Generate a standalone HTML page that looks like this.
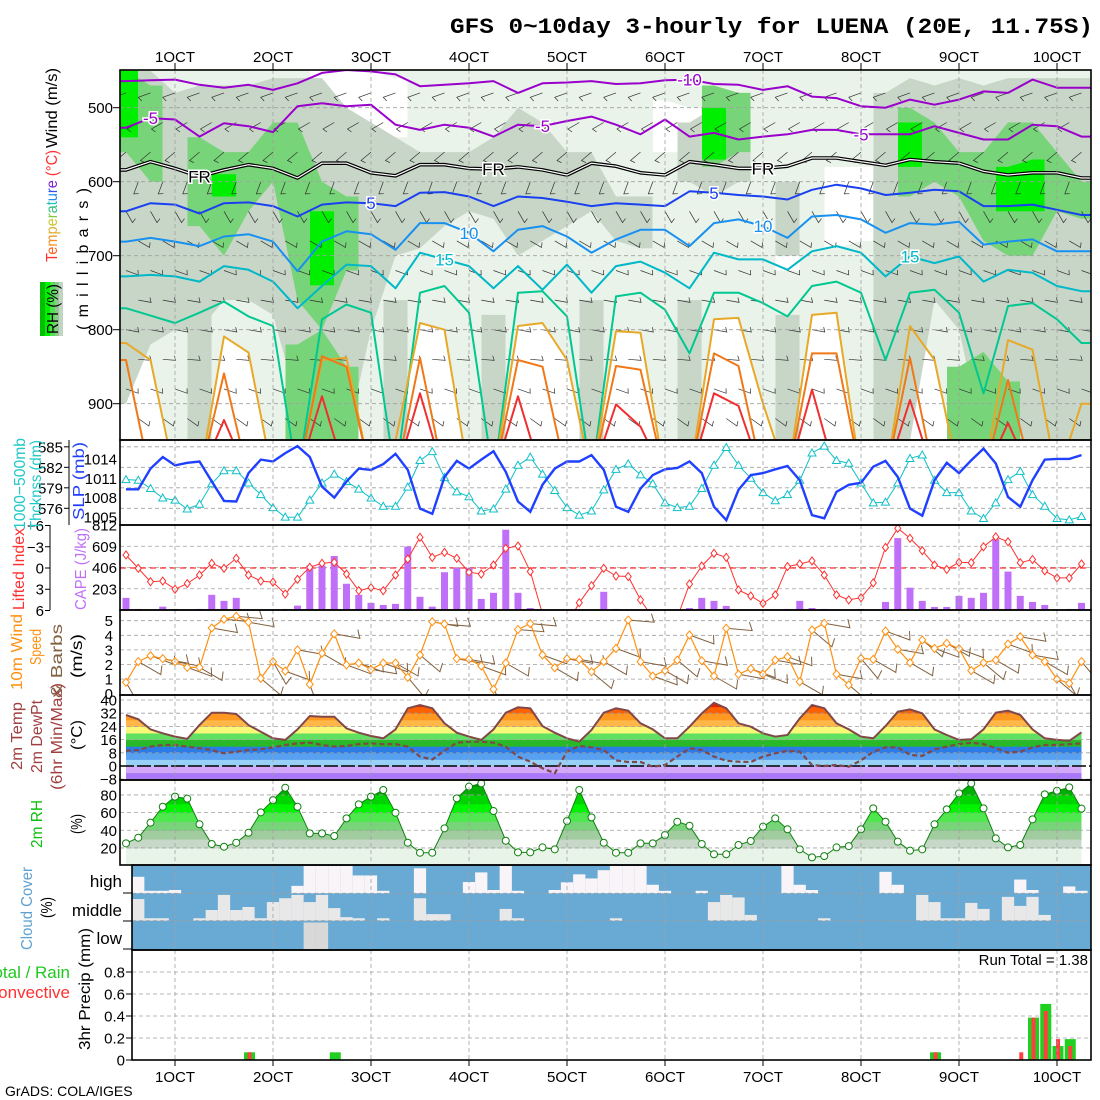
<!DOCTYPE html>
<html><head><meta charset="utf-8"><title>GFS meteogram LUENA</title>
<style>
html,body{margin:0;padding:0;background:#fff;}
svg{display:block;font-family:"Liberation Sans",sans-serif;}
</style></head>
<body>
<svg id="chart" width="1100" height="1100" viewBox="0 0 1100 1100" xmlns="http://www.w3.org/2000/svg">
<defs>
<clipPath id="cTop"><rect x="120" y="70" width="971" height="370"/></clipPath>
<clipPath id="cSlp"><rect x="120" y="440" width="971" height="85"/></clipPath>
<clipPath id="cCape"><rect x="120" y="525" width="971" height="85"/></clipPath>
<clipPath id="cWind"><rect x="120" y="610" width="971" height="85"/></clipPath>
<clipPath id="cTemp"><rect x="120" y="695" width="971" height="85"/></clipPath>
<clipPath id="cRh"><rect x="120" y="780" width="971" height="85"/></clipPath>
<clipPath id="cCloud"><rect x="132" y="865" width="959" height="85"/></clipPath>
<clipPath id="cPrecip"><rect x="132" y="950" width="959" height="110"/></clipPath>
</defs>
<rect x="0" y="0" width="1100" height="1100" fill="#ffffff"/>
<text x="450" y="33" font-family="Liberation Mono, monospace" font-size="22" font-weight="bold" textLength="643" lengthAdjust="spacingAndGlyphs" fill="#000">GFS 0~10day 3-hourly for LUENA (20E, 11.75S)</text>

<g id="gTop"></g>
<g id="gSlp"></g>
<g id="gCape"></g>
<g id="gWind"></g>
<g id="gTemp"></g>
<g id="gRh"></g>
<g id="gCloud"></g>
<g id="gPrecip"></g>
<g id="gAxes"></g>

<g font-size="16">
<text transform="translate(57,148) rotate(-90)" textLength="80" lengthAdjust="spacingAndGlyphs" fill="#000">Wind (m/s)</text>
<text transform="translate(57,262) rotate(-90)" textLength="112" lengthAdjust="spacingAndGlyphs"><tspan fill="#ff3030">T</tspan><tspan fill="#ff6020">e</tspan><tspan fill="#f09020">m</tspan><tspan fill="#e0b030">p</tspan><tspan fill="#c8c830">e</tspan><tspan fill="#80c840">r</tspan><tspan fill="#30c080">a</tspan><tspan fill="#20c0c0">t</tspan><tspan fill="#2090f0">u</tspan><tspan fill="#3050f0">r</tspan><tspan fill="#8020d0">e</tspan><tspan fill="#ff3030"> (°C)</tspan></text>
<rect x="40" y="282" width="5" height="54" fill="#00c000"/>
<rect x="45" y="282" width="5" height="54" fill="#00f000"/>
<rect x="50" y="282" width="5" height="54" fill="#50e050"/>
<rect x="55" y="282" width="4" height="54" fill="#90c890"/>
<rect x="59" y="282" width="4" height="54" fill="#c4d4c4"/>
<text transform="translate(58,334) rotate(-90)" textLength="50" lengthAdjust="spacingAndGlyphs" fill="#000">RH (%)</text>
<text transform="translate(88,330) rotate(-90)" textLength="142" lengthAdjust="spacing" fill="#000">(millibars)</text>
</g>
<g font-size="16">
<text transform="translate(25,530) rotate(-90)" textLength="92" lengthAdjust="spacingAndGlyphs" fill="#20c8c8">1000−500mb</text>
<text transform="translate(41,530) rotate(-90)" textLength="90" lengthAdjust="spacingAndGlyphs" fill="#20c8c8">Thcknss (dm)</text>
<text transform="translate(84,520) rotate(-90)" textLength="78" lengthAdjust="spacingAndGlyphs" fill="#2040ff">SLP (mb)</text>
<text transform="translate(24,610) rotate(-90)" textLength="82" lengthAdjust="spacingAndGlyphs" fill="#ff3030">Lifted Index</text>
<text transform="translate(86,610) rotate(-90)" textLength="82" lengthAdjust="spacingAndGlyphs" fill="#c070f8">CAPE (J/kg)</text>
<text transform="translate(22,690) rotate(-90)" textLength="76" lengthAdjust="spacingAndGlyphs" fill="#ff9010">10m Wind</text>
<text transform="translate(41,665) rotate(-90)" textLength="36" lengthAdjust="spacingAndGlyphs" fill="#ff9010">Speed</text>
<text transform="translate(62,698) rotate(-90)" textLength="74" lengthAdjust="spacingAndGlyphs" fill="#806040">&amp; Barbs</text>
<text transform="translate(82,678) rotate(-90)" textLength="44" lengthAdjust="spacingAndGlyphs" fill="#000">(m/s)</text>
<text transform="translate(22,770) rotate(-90)" textLength="68" lengthAdjust="spacingAndGlyphs" fill="#a04040">2m Temp</text>
<text transform="translate(42,773) rotate(-90)" textLength="73" lengthAdjust="spacingAndGlyphs" fill="#a04040">2m DewPt</text>
<text transform="translate(62,790) rotate(-90)" textLength="107" lengthAdjust="spacingAndGlyphs" fill="#a04040">(6hr Min/Max)</text>
<text transform="translate(82,750) rotate(-90)" textLength="30" lengthAdjust="spacingAndGlyphs" fill="#000">(°C)</text>
<text transform="translate(42,848) rotate(-90)" textLength="48" lengthAdjust="spacingAndGlyphs" fill="#10c010">2m RH</text>
<text transform="translate(82,834) rotate(-90)" textLength="20" lengthAdjust="spacingAndGlyphs" fill="#000">(%)</text>
<text transform="translate(32,950) rotate(-90)" textLength="83" lengthAdjust="spacingAndGlyphs" fill="#5fa0d0">Cloud Cover</text>
<text transform="translate(52,918) rotate(-90)" textLength="21" lengthAdjust="spacingAndGlyphs" fill="#000">(%)</text>
<text x="122" y="887" text-anchor="end" font-size="17" fill="#000">high</text>
<text x="122" y="916" text-anchor="end" font-size="17" fill="#000">middle</text>
<text x="122" y="944" text-anchor="end" font-size="17" fill="#000">low</text>
<text x="70" y="978" text-anchor="end" font-size="17" fill="#20c820">Total / Rain</text>
<text x="70" y="998" text-anchor="end" font-size="17" fill="#ff3030">Convective</text>
<text transform="translate(90,1050) rotate(-90)" textLength="122" lengthAdjust="spacingAndGlyphs" fill="#000">3hr Precip (mm)</text>
<text x="1088" y="965" text-anchor="end" font-size="15" fill="#000">Run Total = 1.38</text>
<text x="5" y="1096" font-size="14" fill="#000">GrADS: COLA/IGES</text>
</g>

<script>
const dayLabels = ["1OCT","2OCT","3OCT","4OCT","5OCT","6OCT","7OCT","8OCT","9OCT","10OCT"];
const slp = [1009.3,1009.3,1012.5,1014.3,1013.0,1013.4,1013.6,1010.5,1007.5,1007.4,
1011.8,1013.9,1013.6,1014.9,1016.0,1014.3,1009.7,1008.0,1010.5,1012.5,
1012.3,1013.2,1014.8,1012.3,1006.3,1005.5,1011.2,1013.7,1012.5,1013.9,
1015.2,1012.0,1007.4,1005.8,1010.0,1012.5,1013.6,1013.6,1014.6,1012.3,
1006.6,1005.8,1009.4,1011.5,1012.4,1012.6,1013.6,1011.8,1006.6,1004.5,
1009.2,1011.5,1011.8,1012.4,1012.9,1010.7,1005.3,1004.8,1008.9,1010.0,
1010.3,1012.8,1013.7,1011.2,1006.3,1005.2,1010.7,1013.4,1011.8,1013.8,
1015.6,1013.3,1008.1,1006.6,1010.7,1013.9,1014.0,1014.0,1014.6];
const thickness = [580.2,580.1,578.9,577.5,577.2,575.9,576.6,579.6,581.5,581.5,
579.7,578.0,576.1,574.7,574.7,577.2,579.7,581.0,579.9,578.8,
577.5,576.3,576.3,579.1,583.0,584.3,580.5,578.4,577.7,575.6,
575.9,578.8,582.3,583.5,581.0,578.6,576.1,575.0,575.6,578.7,
581.7,582.5,580.9,579.6,576.8,576.1,576.3,578.9,582.3,584.9,
582.3,580.4,578.3,577.1,578.0,580.1,584.1,585.1,583.0,582.6,
579.7,576.8,576.9,579.7,583.3,583.8,580.1,578.3,578.3,575.6,
574.5,576.8,580.2,581.4,578.0,576.3,574.5,574.3,574.8];
const liftedIndex = [-1.84,0.05,1.93,1.84,3.0,2.2,1.0,-0.66,0.05,-1.37,
1.0,1.84,2.0,3.67,1.6,-0.1,-0.66,-0.8,0.85,3.2,
2.78,3.2,1.0,-1.27,-4.33,-1.5,-2.2,-1.37,0.6,0.85,
-0.42,-2.78,-3.1,0.5,6.5,8,8,4.9,2.5,0.05,
1.13,1.2,4.5,7,8,7,2.26,-0.28,-2.07,-1.5,
3.1,3.95,5.0,3.8,-0.2,-0.57,-1.0,1.0,3.8,4.5,
4.2,2.1,-2.9,-5.6,-4.2,-2.45,-0.42,0.2,-0.8,-0.75,
-3.0,-4.4,-3.7,-0.75,-1.2,0.4,1.4,1.4,-0.57];
const cape = [116,10,0,32,10,0,10,145,87,116,
0,0,0,10,42,425,425,516,251,145,
68,48,58,606,126,32,361,403,403,106,
164,767,164,19,0,0,0,0,0,174,
10,0,0,0,0,0,19,116,87,39,
0,0,0,0,10,87,19,10,0,0,
10,0,77,687,213,87,29,29,135,116,
164,677,367,135,77,48,0,10,68];
const windSpeed = [0.78,2.2,2.6,2.4,2.2,1.8,1.8,4.5,5.1,5.3,
4.9,1.05,2.2,1.55,3.0,0.64,2.77,4.1,1.97,2.1,
1.67,2.1,2.1,1.12,2.65,4.93,4.77,2.4,2.35,1.9,
0.3,2.1,4.4,4.8,2.65,1.78,2.4,2.35,1.5,2.2,
3.1,5.05,2.2,1.21,1.58,2.3,4.02,2.26,1.21,4.48,
1.33,1.71,1.33,2.3,2.53,0.82,4.36,4.82,1.33,0.6,
2.42,2.35,4.29,3.04,2.12,3.68,3.1,3.45,3.08,1.58,
2.12,2.3,3.4,3.9,2.65,2.2,0.99,0.71,2.2];
const windDir = [150,120,110,100,100,110,120,100,95,95,
100,130,150,110,100,160,120,100,110,110,
100,110,120,140,130,100,95,100,100,110,
150,120,95,95,110,120,100,100,130,120,
110,95,100,110,120,130,110,100,120,95,
100,110,110,100,110,120,130,100,100,130,
140,120,110,100,120,130,110,120,110,120,
130,120,110,100,100,120,130,150,140];
const temp2m = [30.9,28.3,22.2,19.8,17.8,16.5,24.8,32.3,32.3,31.5,
24.8,20.8,16.8,15.8,22.2,30.3,29.9,29.9,22.8,20.2,
18.2,16.8,22.2,35.0,37.0,35.0,25.9,20.2,17.8,15.8,
22.2,32.3,35.6,35.0,24.2,20.2,16.8,14.8,21.8,32.3,
35.0,33.5,25.9,22.2,16.8,16.8,23.8,31.9,38.3,35.0,
25.9,23.8,19.8,17.8,18.8,28.9,37.0,35.0,25.9,22.2,
17.8,16.8,24.2,32.9,34.3,31.9,22.2,18.8,15.8,16.2,
22.2,32.3,33.5,30.9,22.2,16.8,15.8,15.3,20.4];
const dewpt2m = [9.3,9.7,11.7,12.7,12.7,11.7,10.7,9.7,7.7,8.7,
9.7,10.1,11.3,12.7,13.7,14.1,12.7,11.7,12.1,13.3,
13.7,13.3,13.3,11.7,5.7,4.0,9.3,14.1,14.7,14.7,
14.1,11.7,5.7,2.6,-1.4,-4.4,8.7,12.1,11.3,9.7,
3.4,2.4,2.4,-0.4,0.6,5.7,10.7,9.7,5.7,3.2,
2.6,2.4,5.7,7.7,9.3,8.7,0.6,0,0.6,-0.4,
3.4,8.7,11.3,11.3,6.7,6.1,10.1,11.7,13.3,14.1,
13.3,10.7,8.1,8.7,11.3,12.7,12.7,13.3,13.7];
const rh2m = [25.2,31.6,48.6,66.7,78.1,75.8,46.8,24.5,21.4,25.9,
37.2,60.3,74.2,88.2,66.7,36.5,36.5,33.5,53.5,69.4,
78.1,85.6,59.9,25.9,14.6,14.6,42.2,76.2,89.4,93.1,
61.8,28.2,15.0,15.0,20.6,18.4,50.5,85.6,54.6,25.9,
14.6,14.6,25.2,25.2,34.6,49.7,45.2,24.5,12.8,12.8,
23.4,27.9,44.1,53.5,41.1,18.4,9.3,10.8,20.6,22.1,
41.1,64.8,49.7,27.1,16.9,18.4,46.8,63.7,81.8,93.1,
64.8,30.8,20.6,23.4,52.4,80.7,84.8,88.6,64.5];
const cloudHigh = [0,0.6,0.09,0.09,0.12,0,0,0,0,0,
0,0,0,0,0.27,1,1,1,1,0.65,
0.65,0.09,0,0,0.91,0,0,0,0.41,0.76,
0.12,1,0.09,0,0,0.12,0.4,0.69,0.54,0.84,
1,1,1,0.31,0.09,0,0,0.09,0,0,
0,0,0,0,1,0.31,0.12,0,0,0,
0,0,0.78,0.31,0,0,0,0,0,0,
0,0,0,0.5,0.12,0,0,0.25,0.09];
const cloudMid = [0,0.79,0.09,0.09,0,0,0.09,0.39,0.94,0.39,
0.5,0.09,0.68,0.82,0.94,0.68,0.94,0.46,0.13,0.09,
0,0.09,0,0,0.82,0.24,0.24,0,0,0,
0,0.43,0.09,0,0,0,0,0,0,0,
0.09,0,0,0,0,0,0,0,0.68,0.94,
0.85,0.21,0,0,0,0,0,0.09,0,0,
0,0,0,0,0,0.94,0.68,0.09,0.09,0.65,
0.43,0,0.87,0.54,0.87,0.21,0,0,0];
const cloudLow = [0,0,0,0,0,0,0,0,0,0,
0,0,0,0,0,0.94,0.94,0,0,0,
0,0,0,0,0,0,0,0,0,0,0,0,0,0,0,0,0,0,0,0,
0,0,0,0,0,0,0,0,0,0,0,0,0,0,0,0,0,0,0,0,
0,0,0,0,0,0,0,0,0,0,0,0,0,0,0,0,0,0,0];
const precipTotal = [0,0,0,0,0,0,0,0,0,0,
0.07,0,0,0,0,0,0,0.07,0,0,
0,0,0,0,0,0,0,0,0,0,0,0,0,0,0,0,0,0,0,0,
0,0,0,0,0,0,0,0,0,0,0,0,0,0,0,0,0,0,0,0,
0,0,0,0,0,0,0.07,0,0,0,
0,0,0,0,0.385,0.51,0.127,0.19,0];
const precipConv = [0,0,0,0,0,0,0,0,0,0,
0.07,0,0,0,0,0,0,0,0,0,
0,0,0,0,0,0,0,0,0,0,0,0,0,0,0,0,0,0,0,0,
0,0,0,0,0,0,0,0,0,0,0,0,0,0,0,0,0,0,0,0,
0,0,0,0,0,0,0.07,0,0,0,
0,0,0,0.07,0.385,0.445,0.19,0.127,0];
const isoM10 = [464,463,462,469,473,469,476,467,453,449,451,455,471,469,467,464,480,467,466,464,
468,467,463,462,468,469,476,471,485,487,498,500,489,496,489,478,480,462,473,473];
const isoM5 = [527,514,516,539,521,525,533,498,494,498,496,523,530,523,527,539,523,525,518,512,
523,536,516,539,534,543,539,536,530,530,536,536,536,525,534,543,543,523,525,539];
const isoFR = [584,573,582,593,584,577,582,595,575,575,588,592,577,577,582,583,580,584,591,575,
579,588,591,573,577,582,582,579,568,568,573,578,570,573,575,586,591,588,588,595];
const isoP5 = [640,629,631,643,629,628,633,647,631,628,629,633,615,614,620,633,620,622,627,633,
629,631,633,613,615,618,620,624,611,604,609,618,615,611,613,633,633,631,638,645];
const isoP10 = [681,676,681,687,674,671,681,721,681,667,671,692,656,656,669,694,665,660,674,696,
678,665,665,687,656,651,660,676,647,645,651,669,656,658,654,685,681,678,694,694];
const isoP15 = [728,726,728,735,714,719,735,771,741,712,714,744,696,705,714,744,714,746,712,750,
714,708,723,744,696,705,705,719,694,687,696,728,701,710,701,735,719,723,741,748];
const isoP20 = [771,781,791,777,762,782,795,1000,786,766,777,1000,750,741,777,1000,750,748,782,1000,
755,750,773,832,750,750,764,782,741,735,750,841,750,746,777,886,768,764,786,818];
const isoP25 = [818,841,1000,1000,809,831,1000,1000,841,838,1000,950,791,800,1000,1000,795,791,841,1000,
802,804,1000,1000,786,784,900,1000,780,777,1000,1000,795,841,1000,1000,814,827,1000,900];
const isoP30 = [841,1000,1000,1000,859,1000,1000,1000,836,850,1000,1000,838,1000,1000,1000,841,850,1000,1000,
849,854,1000,1000,832,849,1000,1000,832,832,1000,1000,838,1000,1000,1000,868,1000,1000,1000];
const isoP35 = [1000,1000,1000,1000,922,1000,1000,1000,890,1000,1000,1000,886,1000,1000,1000,890,1000,1000,1000,
901,931,1000,1000,886,903,1000,1000,881,1000,1000,1000,895,1000,1000,1000,926,1000,1000,1000];
const rh50Top = [450,450,480,470,470,470,460,460,460,500,520,540,560,560,560,540,500,520,560,560,
620,620,0,520,500,520,0,600,0,0,0,480,460,470,460,470,460,460,460,460];
const rh50Bot = [900,820,800,800,760,760,780,900,950,950,800,700,690,660,640,650,700,680,660,640,
680,690,0,600,620,600,0,700,0,0,0,950,950,760,800,950,950,950,950,950];
const rh50LowTop = [0,0,0,780,0,0,0,760,0,0,0,760,0,0,0,780,0,0,0,760,
0,0,0,760,0,0,0,780,0,0,0,720,0,0,0,760,0,0,0,0];
const rh70Top = [450,470,0,540,560,560,520,520,600,620,0,0,0,0,0,0,0,0,0,0,
0,0,0,0,470,480,0,0,0,0,0,0,500,520,560,560,520,520,560,600];
const rh70Bot = [560,600,0,660,700,640,600,760,800,720,0,0,0,0,0,0,0,0,0,0,
0,0,0,0,580,560,0,0,0,0,0,0,620,600,620,680,700,700,640,650];
const rh70LowTop = [0,0,0,0,0,0,0,820,800,850,0,0,0,0,0,0,0,0,0,0,
0,0,0,0,0,0,0,0,0,0,0,0,0,0,850,830,870,0,0,0];
const rh90Top = [450,0,0,0,590,0,0,0,640,0,0,0,0,0,0,0,0,0,0,0,
0,0,0,0,500,0,0,0,0,0,0,0,520,0,0,0,580,570,0,0];
const rh90Bot = [540,0,0,0,620,0,0,0,740,0,0,0,0,0,0,0,0,0,0,0,
0,0,0,0,570,0,0,0,0,0,0,0,580,0,0,0,640,640,0,0];
const dryTop = [0,0,0,0,0,0,0,0,450,450,450,460,0,0,0,0,0,0,0,0,
0,0,490,500,0,0,0,620,0,580,580,0,0,0,0,0,0,0,0,0];
const dryBot = [0,0,0,0,0,0,0,0,560,570,560,540,0,0,0,0,0,0,0,0,
0,0,560,560,0,0,0,720,0,690,680,0,0,0,0,0,0,0,0,0];
const barbLevels = [480,520,560,600,640,680,720,760,800,840,880,920];
const barbLevelDir = [250,240,230,200,150,120,110,100,100,95,110,125];
const pressureTicks = [500,600,700,800,900];
const slpTicks = [1005,1008,1011,1014];
const thkTicks = [576,579,582,585];
const capeTicks = [203,406,609,812];
const liTicks = [-6,-3,0,3,6];
const windTicks = [0,1,2,3,4,5];
const tempTicks = [-8,0,8,16,24,32,40];
const rhTicks = [20,40,60,80];
const precipTicks = [0,0.2,0.4,0.6,0.8];

const NS = "http://www.w3.org/2000/svg";
function mk(tag, attrs, parent){
  const e = document.createElementNS(NS, tag);
  for (const k in attrs) e.setAttribute(k, attrs[k]);
  parent.appendChild(e);
  return e;
}
const X = i => 126 + 12.25 * i;
const X6 = k => 126 + 24.5 * k;
const pY = p => 107.7 + (p - 500) * 0.74;
const slpY = v => 517 - (v - 1005) * 6.45;
const thkY = v => 508.3 - (v - 576) * 6.83;
const capeY = v => 610 - v * (85 / 812);
const liY = v => 568 + v * 7.083;
const wY = v => 693.7 - v * 14.6;
const tY = v => 766 - v * 1.65;
const rhY = v => 865.6 - v * 0.883;
const prY = v => 1060 - v * 110;
const DX = [175,273,371,469,567,665,763,861,959,1057];
const gTop = document.getElementById("gTop"), gSlp = document.getElementById("gSlp"),
  gCape = document.getElementById("gCape"), gWind = document.getElementById("gWind"),
  gTemp = document.getElementById("gTemp"), gRh = document.getElementById("gRh"),
  gCloud = document.getElementById("gCloud"), gPrecip = document.getElementById("gPrecip"),
  gAxes = document.getElementById("gAxes");
function pts(arr){ return arr.map(p => p[0].toFixed(1) + "," + p[1].toFixed(1)).join(" "); }

const topC = mk("g", {"clip-path":"url(#cTop)"}, gTop);
const tbg = mk("rect", {x:120, y:70, width:971, height:370, fill:"#e9f3e9"}, topC);


function band(topA, botA, fill, name){
  let k = 0;
  while (k < topA.length){
    if (topA[k] > 0){
      let s = k; while (k < topA.length && topA[k] > 0) k++;
      const e = k - 1;
      const up = [], dn = [];
      up.push([X6(s) - 12, pY(topA[s])]);
      for (let j = s; j <= e; j++) up.push([X6(j), pY(topA[j])]);
      up.push([X6(e) + 12, pY(topA[e])]);
      dn.push([X6(e) + 12, pY(botA[e])]);
      for (let j = e; j >= s; j--) dn.push([X6(j), pY(botA[j])]);
      dn.push([X6(s) - 12, pY(botA[s])]);
      const pg = mk("polygon", {points: pts(up.concat(dn)), fill: fill}, topC);
      
      
    } else k++;
  }
}
band(dryTop, dryBot, "#ffffff", "dry-region");
{
  const p = [[120, pY(isoP25[0])]];
  isoP25.forEach((v, k) => p.push([X6(k), pY(v)]));
  p.push([1092, pY(isoP25[39])], [1092, 460], [120, 460]);
  const w = mk("polygon", {points: pts(p), fill:"#ffffff"}, topC);
  
  
}
band(rh50Top, rh50Bot, "#c8d6c8", "rh-50-region");
band(rh50LowTop, rh50LowTop.map(v => v > 0 ? 960 : 0), "#c8d6c8", "rh-50-low-region");
band(rh70Top, rh70Bot, "#78d478", "rh-70-region");
band(rh70LowTop, rh70LowTop.map(v => v > 0 ? 960 : 0), "#78d478", "rh-70-low-region");
band(rh90Top, rh90Bot, "#00ee00", "rh-90-region");

barbLevels.forEach((lv, li) => {
  const a = (barbLevelDir[li] - 90) * Math.PI / 180;
  for (let i = (li % 2); i < 79; i += 2){
    const x0 = X(i), y0 = pY(lv);
    const x1 = x0 + 13 * Math.cos(a), y1 = y0 + 13 * Math.sin(a);
    const bx = x1 + 5 * Math.cos(a - Math.PI / 2 - 0.4), by = y1 + 5 * Math.sin(a - Math.PI / 2 - 0.4);
    const b = mk("polyline", {points: pts([[x0,y0],[x1,y1],[bx,by]]), fill:"none", stroke:"#303030", "stroke-width":0.7}, topC);
    
    
  }
});
pressureTicks.forEach(p => {
  const l = mk("line", {x1:120, x2:1091, y1:pY(p), y2:pY(p), stroke:"#a0a0a0", "stroke-dasharray":"4,3", "stroke-width":0.8}, topC);
  
  
});
function iso(arr, color, w, name){
  const p = [[118, pY(arr[0])]];
  arr.forEach((v, k) => p.push([X6(k), pY(v)]));
  p.push([1094, pY(arr[arr.length - 1])]);
  const l = mk("polyline", {points: pts(p), fill:"none", stroke: color, "stroke-width": w, "stroke-linejoin":"round"}, topC);
  
  
}
iso(isoM10, "#9a00cc", 2, "isotherm-minus10");
iso(isoM5, "#9a00cc", 2, "isotherm-minus5");
iso(isoFR, "#000000", 3.6, "freezing-level");
iso(isoFR, "#ffffff", 1.2, "freezing-level-inner");
iso(isoP5, "#1a40f0", 2, "isotherm-5");
iso(isoP10, "#1890f0", 2, "isotherm-10");
iso(isoP15, "#00b8c8", 2, "isotherm-15");
iso(isoP20, "#00c890", 2, "isotherm-20");
iso(isoP25, "#e8a828", 2, "isotherm-25");
iso(isoP30, "#f07818", 2, "isotherm-30");
iso(isoP35, "#f03030", 2, "isotherm-35");
const isoLabels = [["-10",isoM10,23,"#9a00cc"],["-5",isoM5,1,"#9a00cc"],["-5",isoM5,17,"#9a00cc"],["-5",isoM5,30,"#9a00cc"],
 ["FR",isoFR,3,"#000"],["FR",isoFR,15,"#000"],["FR",isoFR,26,"#000"],["5",isoP5,10,"#1a40f0"],["5",isoP5,24,"#1a40f0"],
 ["10",isoP10,14,"#1890f0"],["10",isoP10,26,"#1890f0"],["15",isoP15,13,"#00b8c8"],["15",isoP15,32,"#00b8c8"]];
isoLabels.forEach(d => {
  const t = mk("text", {x: X6(d[2]), y: pY(d[1][d[2]]) + 6, "font-size": 17, fill: d[3], "text-anchor":"middle", stroke:"#ffffff", "stroke-width":3, "paint-order":"stroke"}, topC);
  t.textContent = d[0];
  
  
});

const slpC = mk("g", {"clip-path":"url(#cSlp)"}, gSlp);
thkTicks.forEach(v => {
  const l = mk("line", {x1:120, x2:1091, y1:thkY(v), y2:thkY(v), stroke:"#a0a0a0", "stroke-dasharray":"4,3", "stroke-width":0.8}, slpC);
  
  
});
{
  const l = mk("polyline", {points: pts(thickness.map((v,i)=>[X(i), thkY(v)])), fill:"none", stroke:"#10c0c8", "stroke-width":1}, slpC);
  
  
  thickness.forEach((v,i) => {
    const x = X(i), y = thkY(v);
    const m = mk("path", {d:`M${x},${y-4}L${x+4},${y+3}L${x-4},${y+3}Z`, fill:"#ffffff", stroke:"#10c0c8", "stroke-width":1}, slpC);
    
    
  });
  const s = mk("polyline", {points: pts(slp.map((v,i)=>[X(i), slpY(v)])), fill:"none", stroke:"#2040ff", "stroke-width":2.4}, slpC);
  
  
}

const capeC = mk("g", {"clip-path":"url(#cCape)"}, gCape);
capeTicks.forEach(v => {
  const l = mk("line", {x1:120, x2:1091, y1:capeY(v), y2:capeY(v), stroke:"#a0a0a0", "stroke-dasharray":"4,3", "stroke-width":0.8}, capeC);
  
  
});
{
  const z = mk("line", {x1:120, x2:1091, y1:liY(0), y2:liY(0), stroke:"#ff3030", "stroke-dasharray":"6,4", "stroke-width":1.2}, capeC);
  
  
}
cape.forEach((v,i) => {
  if (v <= 0) return;
  const b = mk("rect", {x: X(i) - 3.5, y: capeY(v), width: 7, height: 610 - capeY(v), fill:"#c070f8"}, capeC);
  
  
});
{
  const l = mk("polyline", {points: pts(liftedIndex.map((v,i)=>[X(i), liY(v)])), fill:"none", stroke:"#ff3030", "stroke-width":1}, capeC);
  
  
  liftedIndex.forEach((v,i) => {
    const x = X(i), y = liY(v);
    const m = mk("path", {d:`M${x},${y-4}L${x+3},${y}L${x},${y+4}L${x-3},${y}Z`, fill:"#ffffff", stroke:"#ff3030", "stroke-width":1}, capeC);
    
    
  });
}

const windC = mk("g", {"clip-path":"url(#cWind)"}, gWind);
windTicks.forEach(v => {
  if (v === 0) return;
  const l = mk("line", {x1:120, x2:1091, y1:wY(v), y2:wY(v), stroke:"#a0a0a0", "stroke-dasharray":"4,3", "stroke-width":0.8}, windC);
  
  
});
windSpeed.forEach((v,i) => {
  const a = (windDir[i] - 90) * Math.PI / 180;
  const x0 = X(i), y0 = wY(v);
  const x1 = x0 + 26 * Math.cos(a), y1 = y0 + 26 * Math.sin(a);
  const bx = x1 + 9 * Math.cos(a - Math.PI/2 - 0.4), by = y1 + 9 * Math.sin(a - Math.PI/2 - 0.4);
  const b = mk("polyline", {points: pts([[x0,y0],[x1,y1],[bx,by]]), fill:"none", stroke:"#806040", "stroke-width":1}, windC);
  
  
});
{
  const l = mk("polyline", {points: pts(windSpeed.map((v,i)=>[X(i), wY(v)])), fill:"none", stroke:"#ff9010", "stroke-width":1.2}, windC);
  
  
  windSpeed.forEach((v,i) => {
    const x = X(i), y = wY(v);
    const m = mk("path", {d:`M${x},${y-4}L${x+3.5},${y}L${x},${y+4}L${x-3.5},${y}Z`, fill:"#ffffff", stroke:"#ff9010", "stroke-width":1}, windC);
    
    
  });
}

const tempC = mk("g", {"clip-path":"url(#cTemp)"}, gTemp);
{
  const defs = document.querySelector("defs");
  const cp = mk("clipPath", {id:"tFillClip"}, defs);
  const poly = temp2m.map((v,i)=>[X(i), tY(v)]);
  poly.push([X(78), 780], [X(0), 780]);
  mk("polygon", {points: pts(poly)}, cp);
  const tb = [[-8,-4,"#a878f8"],[-4,0,"#d4a8f8"],[0,4,"#98d0f8"],[4,8,"#58a0f0"],[8,12,"#2c7ce8"],[12,16,"#28b828"],[16,20,"#60e060"],[20,24,"#f8f878"],[24,28,"#ffb848"],[28,32,"#ff9820"],[32,36,"#ff6000"],[36,40,"#e82000"],[40,46,"#b00000"]];
  const fg = mk("g", {"clip-path":"url(#tFillClip)"}, tempC);
  tb.forEach(b => {
    const r = mk("rect", {x: X(0), y: tY(b[1]), width: X(78) - X(0), height: tY(b[0]) - tY(b[1]) + 0.5, fill: b[2]}, fg);
    
    
  });
}
tempTicks.forEach(v => {
  const l = mk("line", {x1:120, x2:1091, y1:tY(v), y2:tY(v), stroke: v === 0 ? "#000" : "#a0a0a0", "stroke-dasharray": v === 0 ? "14,3" : "4,3", "stroke-width": v === 0 ? 1.5 : 0.8}, tempC);
  
  
});
{
  const d = mk("polyline", {points: pts(dewpt2m.map((v,i)=>[X(i), tY(v)])), fill:"none", stroke:"#804848", "stroke-width":2.2, "stroke-dasharray":"5,3"}, tempC);
  
  
  const t = mk("polyline", {points: pts(temp2m.map((v,i)=>[X(i), tY(v)])), fill:"none", stroke:"#804848", "stroke-width":2}, tempC);
  
  
}

const rhC = mk("g", {"clip-path":"url(#cRh)"}, gRh);
{
  const defs = document.querySelector("defs");
  const cp = mk("clipPath", {id:"rhFillClip"}, defs);
  const poly = rh2m.map((v,i)=>[X(i), rhY(v)]);
  poly.push([X(78), 866], [X(0), 866]);
  mk("polygon", {points: pts(poly)}, cp);
  const rb = [[0,20,"#e8f4e8"],[20,30,"#c8d8c8"],[30,40,"#a0cca0"],[40,50,"#78d478"],[50,60,"#4ee84e"],[60,70,"#00f400"],[70,80,"#00d400"],[80,90,"#00b000"],[90,100,"#009000"]];
  const fg = mk("g", {"clip-path":"url(#rhFillClip)"}, rhC);
  rb.forEach(b => {
    const r = mk("rect", {x: X(0), y: rhY(b[1]), width: X(78) - X(0), height: rhY(b[0]) - rhY(b[1]) + 0.5, fill: b[2]}, fg);
    
    
  });
}
rhTicks.forEach(v => {
  const l = mk("line", {x1:120, x2:1091, y1:rhY(v), y2:rhY(v), stroke:"#a0a0a0", "stroke-dasharray":"4,3", "stroke-width":0.8}, rhC);
  
  
});
{
  const l = mk("polyline", {points: pts(rh2m.map((v,i)=>[X(i), rhY(v)])), fill:"none", stroke:"#108010", "stroke-width":1}, rhC);
  
  
  rh2m.forEach((v,i) => {
    const c = mk("circle", {cx: X(i), cy: rhY(v), r: 3.5, fill:"#ffffff", stroke:"#108010", "stroke-width":1}, rhC);
    
    
  });
}

const cloudC = mk("g", {"clip-path":"url(#cCloud)"}, gCloud);
{
  const bg = mk("rect", {x:132, y:865, width:959, height:85, fill:"#68aad4"}, cloudC);
  
  
  const layers = [[cloudHigh, 893.3, 27.5, "#f8f4f8", "cloud-high-bar"], [cloudMid, 920.7, 27.4, "#e8e8e8", "cloud-middle-bar"], [cloudLow, 950, 29.3, "#d8d8d8", "cloud-low-bar"]];
  layers.forEach(L => {
    L[0].forEach((v,i) => {
      if (v <= 0) return;
      const r = mk("rect", {x: X(i) - 6.125, y: L[1] - v * L[2], width: 12.25, height: v * L[2], fill: L[3]}, cloudC);
      
      
    });
  });
  [893.3, 920.7].forEach(y => {
    const l = mk("line", {x1:132, x2:1091, y1:y, y2:y, stroke:"#a0a0a0", "stroke-dasharray":"4,3", "stroke-width":0.8}, cloudC);
    
    
  });
}

const prC = mk("g", {"clip-path":"url(#cPrecip)"}, gPrecip);
precipTicks.forEach(v => {
  if (v === 0) return;
  const l = mk("line", {x1:132, x2:1091, y1:prY(v), y2:prY(v), stroke:"#a0a0a0", "stroke-dasharray":"4,3", "stroke-width":0.8}, prC);
  
  
});
precipTotal.forEach((v,i) => {
  if (v <= 0) return;
  const r = mk("rect", {x: X(i) - 4.5, y: prY(v), width: 11, height: 1060 - prY(v), fill:"#20d020"}, prC);
  
  
});
precipConv.forEach((v,i) => {
  if (v <= 0) return;
  const r = mk("rect", {x: X(i) - 1, y: prY(v), width: 4, height: 1060 - prY(v), fill:"#ff4040"}, prC);
  
  
});

DX.forEach((x, d) => {
  [[70,440],[440,525],[525,610],[610,695],[695,780],[780,865],[865,950],[950,1060]].forEach(s => {
    const l = mk("line", {x1:x, x2:x, y1:s[0], y2:s[1], stroke:"#a0a0a0", "stroke-dasharray":"4,3", "stroke-width":0.8}, gAxes);
    
    
  });
  const tk = mk("line", {x1:x, x2:x, y1:63, y2:70, stroke:"#000", "stroke-width":1}, gAxes);
  
  
  const bk = mk("line", {x1:x, x2:x, y1:1060, y2:1066, stroke:"#000", "stroke-width":1}, gAxes);
  
  
  const t1 = mk("text", {x:x, y:62, "font-size":15, "text-anchor":"middle", fill:"#000"}, gAxes);
  t1.textContent = dayLabels[d];
  
  
  const t2 = mk("text", {x:x, y:1082, "font-size":15, "text-anchor":"middle", fill:"#000"}, gAxes);
  t2.textContent = dayLabels[d];
  
  
});
[[120,70,971,370],[120,440,971,85],[120,525,971,85],[120,610,971,85],[120,695,971,85],[120,780,971,85],[132,865,959,85],[132,950,959,110]].forEach(r => {
  const f = mk("rect", {x:r[0], y:r[1], width:r[2], height:r[3], fill:"none", stroke:"#000", "stroke-width":1.6}, gAxes);
  
  
});
function ticks(vals, yf, xr, fmt, name, tickX){
  vals.forEach(v => {
    const y = yf(v);
    const t = mk("text", {x: xr, y: y + 5.5, "font-size":15, "text-anchor":"end", fill:"#000"}, gAxes);
    t.textContent = fmt(v);
    
    
    if (tickX){
      const l = mk("line", {x1: tickX[0], x2: tickX[1], y1:y, y2:y, stroke:"#000", "stroke-width":1}, gAxes);
      
      
    }
  });
}
ticks(pressureTicks, pY, 113, v => String(v), "pressure-tick", [113,120]);
ticks(slpTicks, slpY, 117, v => String(v), "slp-tick", null);
ticks(thkTicks, thkY, 63, v => String(v), "thickness-tick", [64,69]);
ticks(capeTicks, capeY, 117, v => String(v), "cape-tick", null);
ticks(liTicks, liY, 44, v => v < 0 ? "−" + Math.abs(v) : String(v), "li-tick", [45,50]);
ticks(windTicks, wY, 113, v => String(v), "wind-tick", null);
ticks(tempTicks, tY, 117, v => v < 0 ? "−" + Math.abs(v) : String(v), "temp-tick", null);
ticks(rhTicks, rhY, 117, v => String(v), "rh-tick", null);
ticks(precipTicks, prY, 125, v => v === 0 ? "0" : v.toFixed(1), "precip-tick", [126,132]);
{
  const a1 = mk("line", {x1:69, x2:69, y1:440, y2:525, stroke:"#000", "stroke-width":1}, gAxes);
  
  
  const a2 = mk("line", {x1:50, x2:50, y1:525, y2:610, stroke:"#000", "stroke-width":1}, gAxes);
  
  
  [893, 921, 949].forEach(y => {
    const l = mk("line", {x1:123, x2:132, y1:y, y2:y, stroke:"#000", "stroke-width":1}, gAxes);
    
    
  });
}
</script>
</body></html>
